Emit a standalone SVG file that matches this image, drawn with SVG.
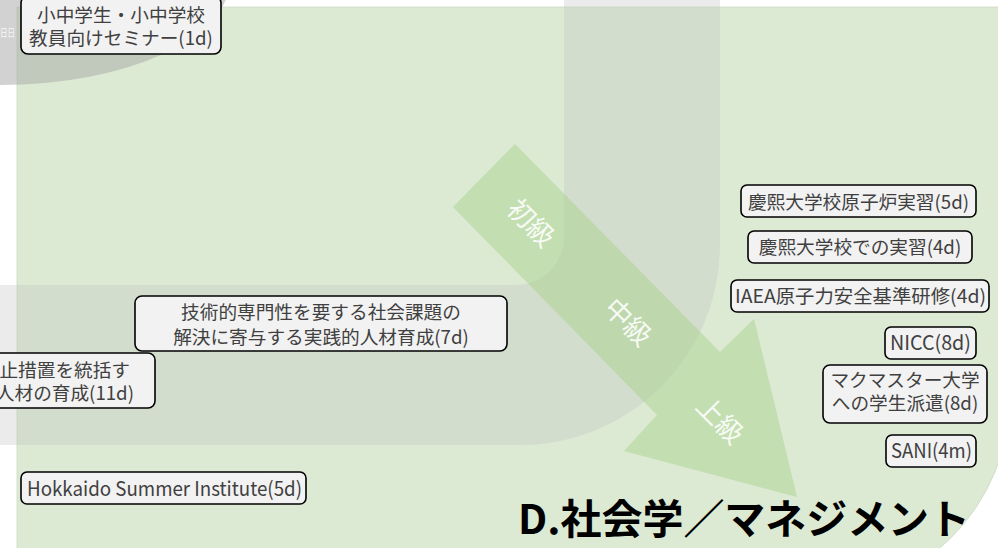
<svg xmlns="http://www.w3.org/2000/svg" width="998" height="548" viewBox="0 0 998 548">
<style>
.box{fill:#f2f2f2;stroke:#000;stroke-width:1.6}
.t{font-family:"Noto Sans CJK JP","Noto Sans",sans-serif;font-size:18.67px;fill:#404040;text-anchor:middle}
.lv{font-family:"Noto Sans CJK JP","Noto Sans",sans-serif;font-size:27px;fill:#ffffff;fill-opacity:0.88;text-anchor:middle}
</style>
<rect width="998" height="548" fill="#ffffff"/>
<g id="background">
<path d="M17 7 H1010 V396 A200 200 0 0 1 810 596 H17 Z" fill="#dcead3" stroke="#cdd8c6" stroke-width="0.8"/>
<path d="M564 -10 L720 -10 L720 245 A200 200 0 0 1 520 445 L-10 445 L-10 285 L516 285 A48 48 0 0 0 564 237 Z" fill="#c3c3c3" fill-opacity="0.33"/>
<ellipse cx="0" cy="-20" rx="230" ry="105" fill="#a6a6a6" fill-opacity="0.5"/>
<text x="0" y="37" font-family="Noto Sans CJK JP,sans-serif" font-size="11" fill="#ffffff" fill-opacity="0.85" textLength="15" lengthAdjust="spacingAndGlyphs">日日</text>
</g>
<g id="progress-arrow">
<path d="M515 144 L720 352 L754 319 L797 497 L624 451 L657 415 L453 207 Z" fill="#a9d18e" fill-opacity="0.5"/>
<text class="lv" transform="translate(531 223) rotate(45)" y="9.5">初級</text>
<text class="lv" transform="translate(628 322) rotate(45)" y="9.5">中級</text>
<text class="lv" transform="translate(720 420) rotate(45)" y="9.5">上級</text>
</g>
<g id="connectors"></g>
<g id="node-seminar">
<rect class="box" x="21" y="-4" width="200" height="58" rx="7"/>
<text class="t"><tspan x="121" y="22">小中学生・小中学校</tspan><tspan x="121" y="44.5">教員向けセミナー(1d)</tspan></text>
</g>
<g id="node-social">
<rect class="box" x="135" y="296" width="372" height="55" rx="7"/>
<text class="t"><tspan x="321" y="319">技術的専門性を要する社会課題の</tspan><tspan x="321" y="343.5">解決に寄与する実践的人材育成(7d)</tspan></text>
</g>
<g id="node-nonprolif">
<rect class="box" x="-60" y="353" width="215" height="55" rx="7"/>
<text class="t" style="text-anchor:end"><tspan x="130" y="377">止措置を統括す</tspan><tspan x="134" y="400">人材の育成(11d)</tspan></text>
</g>
<g id="node-hokkaido">
<rect class="box" x="21" y="472" width="285" height="32" rx="6"/>
<text class="t" x="27" y="496" style="text-anchor:start;font-size:20px" textLength="275" lengthAdjust="spacingAndGlyphs">Hokkaido Summer Institute(5d)</text>
</g>
<g id="node-khu-reactor">
<rect class="box" x="741" y="185" width="235" height="32" rx="6"/>
<text class="t" x="858.5" y="208.5">慶熙大学校原子炉実習(5d)</text>
</g>
<g id="node-khu-practice">
<rect class="box" x="748" y="231" width="224" height="32" rx="6"/>
<text class="t" x="860" y="253.5">慶熙大学校での実習(4d)</text>
</g>
<g id="node-iaea">
<rect class="box" x="731" y="280" width="258" height="32" rx="6"/>
<text class="t" x="735" y="302.8" style="text-anchor:start" textLength="251" lengthAdjust="spacingAndGlyphs">IAEA原子力安全基準研修(4d)</text>
</g>
<g id="node-nicc">
<rect class="box" x="885" y="327" width="91" height="32" rx="6"/>
<text class="t" x="890" y="350" style="text-anchor:start;font-size:20px" textLength="81" lengthAdjust="spacingAndGlyphs">NICC(8d)</text>
</g>
<g id="node-mcmaster">
<rect class="box" x="823" y="365" width="164" height="58" rx="7"/>
<text class="t"><tspan x="905" y="387">マクマスター大学</tspan><tspan x="905" y="410">への学生派遣(8d)</tspan></text>
</g>
<g id="node-sani">
<rect class="box" x="886" y="435" width="90" height="32" rx="6"/>
<text class="t" x="891" y="458.3" style="text-anchor:start;font-size:20px" textLength="81" lengthAdjust="spacingAndGlyphs">SANI(4m)</text>
</g>
<g id="title">
<text x="518" y="533.5" font-family="Noto Sans CJK JP,Noto Sans,sans-serif" font-size="41" font-weight="bold" fill="#000000" textLength="452" lengthAdjust="spacingAndGlyphs">D.社会学／マネジメント</text>
</g>
</svg>
